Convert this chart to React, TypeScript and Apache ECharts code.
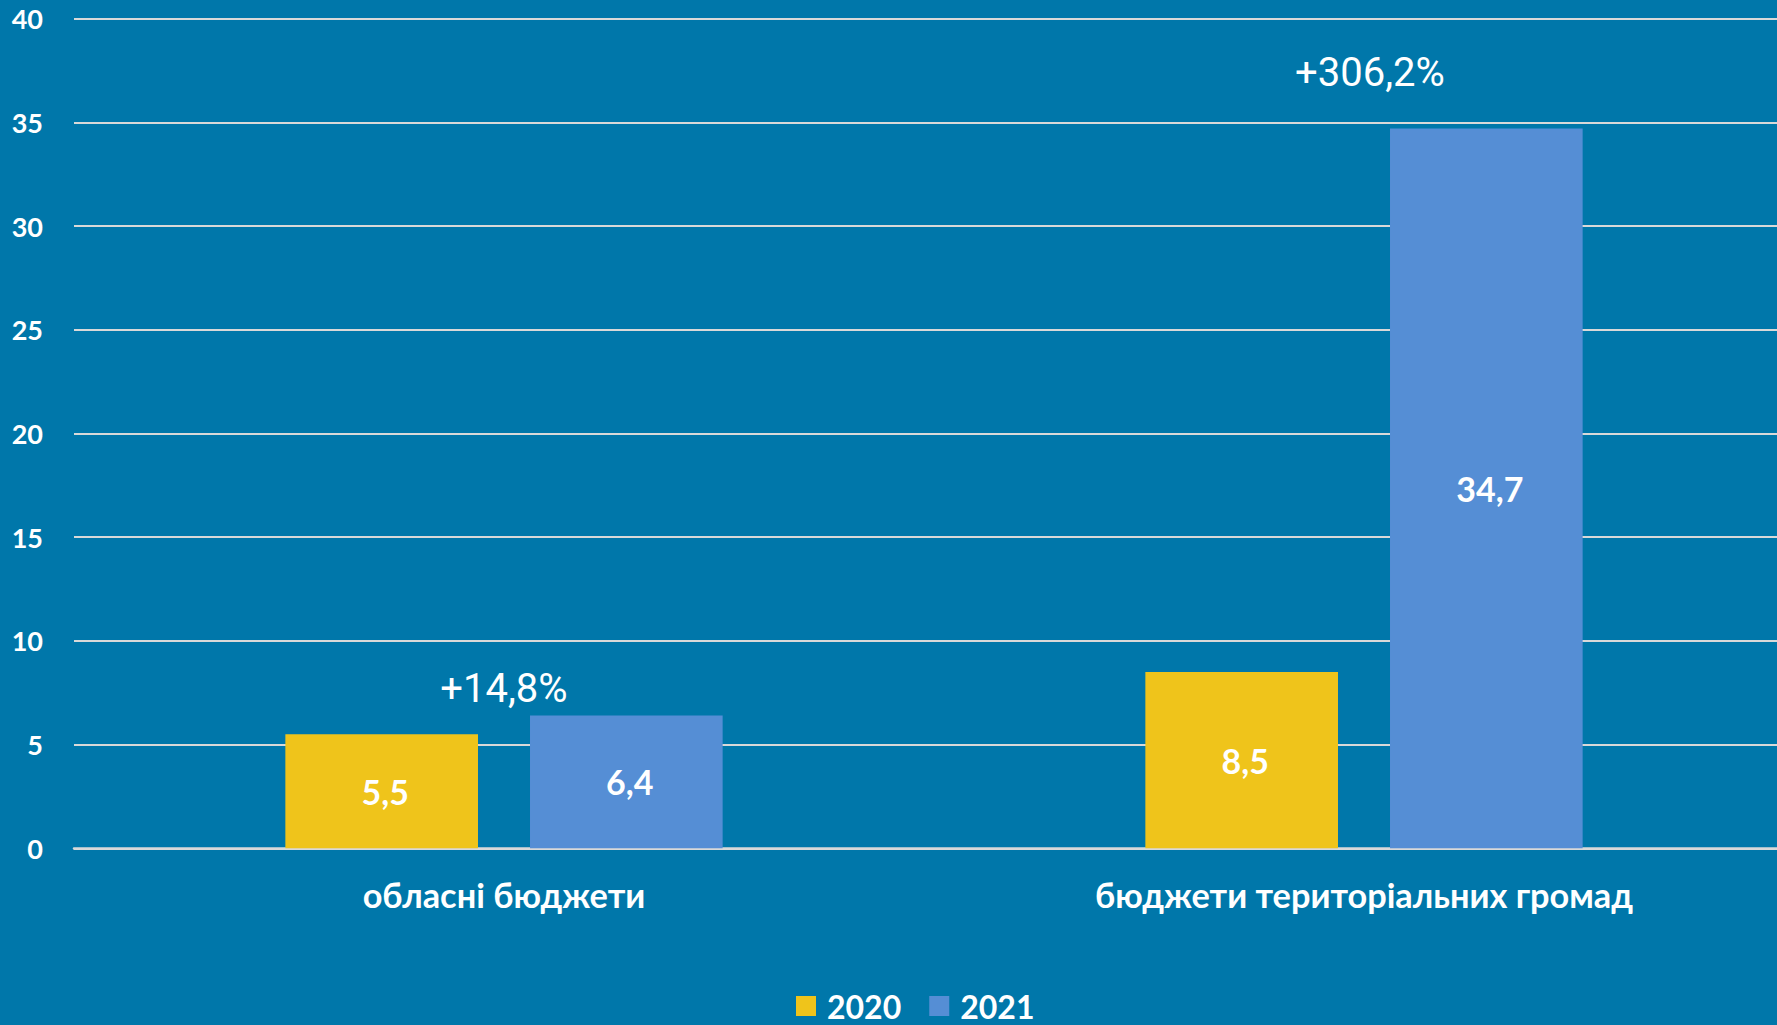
import React, { useEffect, useRef } from "react";
import * as echarts from "echarts";

const categories = ["обласні бюджети", "бюджети територіальних громад"];
const values2020 = [5.5, 8.5];
const values2021 = [6.4, 34.7];
const growthLabels = ["+14,8%", "+306,2%"];
const seriesNames = ["2020", "2021"];
const yTicks = { min: 0, max: 40, interval: 5 };

// layout anchors (value-space heights) for the growth annotations
const growthAnchorY = [7.7, 37.4];

const fmt = (v: number) => String(v).replace(".", ",");

const BG = "#0077AA";
const YELLOW = "#EFC41B";
const BLUE = "#558ED5";
const GRID = "#D9D9D9";
const FONT = "Lato, 'Noto Sans', sans-serif";

export default function App() {
  const ref = useRef<HTMLDivElement>(null);
  useEffect(() => {
    if (!ref.current) return;
    const chart = echarts.init(ref.current, null, { renderer: "svg" });
    const barLabel = {
      show: true,
      position: "inside" as const,
      offset: [3.5, 0],
      color: "#fff",
      fontFamily: FONT,
      fontWeight: "bold" as const,
      fontSize: 34,
      formatter: (p: any) => fmt(p.value),
    };
    chart.setOption({
      animation: false,
      backgroundColor: BG,
      grid: { left: 74, top: 18.7, right: 0, bottom: 176.7, containLabel: false },
      legend: {
        data: seriesNames,
        left: 796,
        top: 990,
        padding: 0,
        itemWidth: 20,
        itemHeight: 20,
        itemGap: 28,
        icon: "rect",
        textStyle: {
          color: "#fff",
          fontFamily: FONT,
          fontWeight: "bold",
          fontSize: 32,
          lineHeight: 30,
          padding: [0, 0, 0, 6],
        },
      },
      xAxis: {
        type: "category",
        data: categories,
        axisLine: { show: true, lineStyle: { color: GRID, width: 2.5 } },
        axisTick: { show: false },
        axisLabel: {
          color: "#fff",
          fontFamily: FONT,
          fontWeight: "bold",
          fontSize: 34.3,
          lineHeight: 40,
          margin: 26,
        },
      },
      yAxis: {
        type: "value",
        min: yTicks.min,
        max: yTicks.max,
        interval: yTicks.interval,
        axisLine: { show: false },
        axisTick: { show: false },
        splitLine: { lineStyle: { color: GRID, width: 2 } },
        axisLabel: {
          color: "#fff",
          fontFamily: FONT,
          fontWeight: "bold",
          fontSize: 27,
          margin: 31,
        },
      },
      series: [
        {
          name: seriesNames[0],
          type: "bar",
          data: values2020,
          barWidth: "22.4%",
          barGap: "27%",
          itemStyle: { color: YELLOW },
          label: barLabel,
        },
        {
          name: seriesNames[1],
          type: "bar",
          data: values2021,
          barWidth: "22.4%",
          barGap: "27%",
          itemStyle: { color: BLUE },
          label: barLabel,
        },
        {
          name: "growth",
          type: "scatter",
          symbolSize: 0,
          silent: true,
          itemStyle: { opacity: 1 },
          data: growthAnchorY.map((y, i) => ({
            value: [i, y],
            label: {
              show: true,
              position: "inside",
              formatter: growthLabels[i],
              offset: [i === 1 ? 6 : 0, 0],
              color: "#fff",
              opacity: 1,
              fontFamily: "Roboto, sans-serif",
              fontSize: 40,
            },
          })),
        },
      ],
    });
    return () => chart.dispose();
  }, []);
  return (
    <div
      style={{
        position: "fixed",
        left: 0,
        top: 0,
        width: 1777,
        height: 1025,
        overflow: "hidden",
      }}
    >
      <div
        ref={ref}
        style={{ position: "absolute", left: 0, top: 0, width: 1794, height: 1025 }}
      />
    </div>
  );
}
